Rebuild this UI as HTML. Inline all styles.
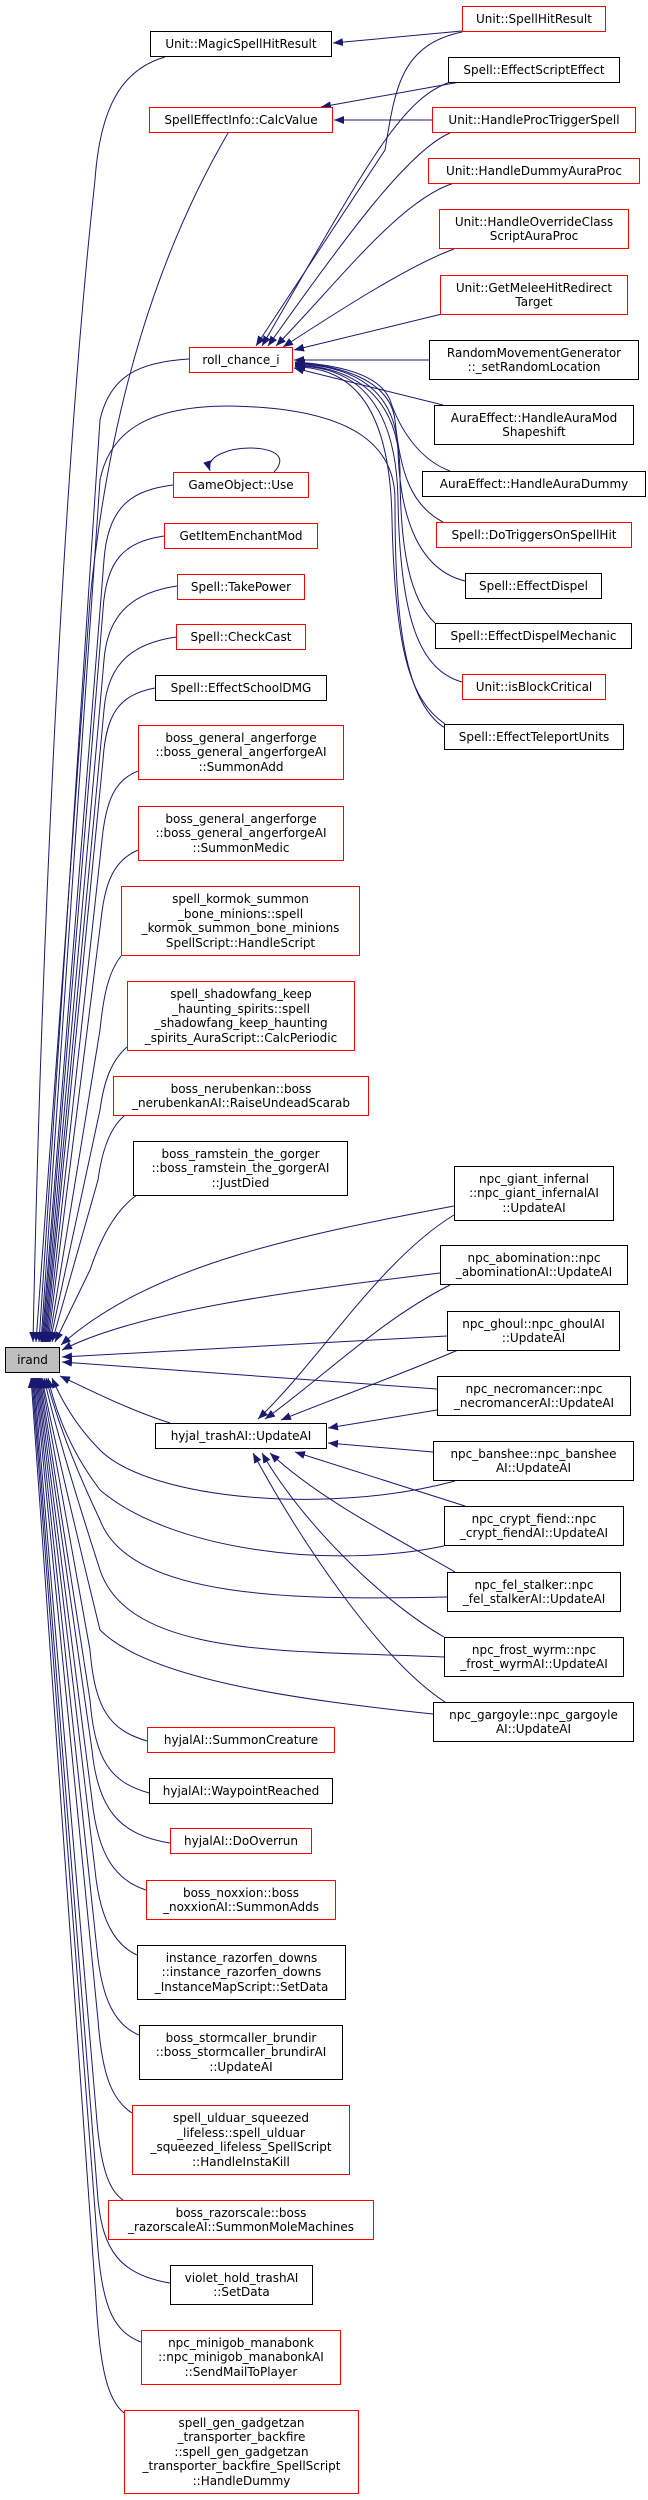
<!DOCTYPE html>
<html><head><meta charset="utf-8"><style>
body{margin:0;background:#fff;}
#c{position:relative;width:648px;height:2500px;overflow:hidden;background:#fff;}
.b{position:absolute;box-sizing:border-box;border:1px solid #000;background:#fff;display:flex;align-items:center;justify-content:center;text-align:center;font-family:"DejaVu Sans","Liberation Sans",sans-serif;font-size:12px;line-height:14.5px;white-space:nowrap;color:#000;}
.r{border-color:#f00;}
.g{background:#bfbfbf;}
svg{position:absolute;left:0;top:0;}
</style></head><body><div id="c">
<svg width="648" height="2500" viewBox="0 0 648 2500">
<defs><marker id="a" markerUnits="userSpaceOnUse" markerWidth="11" markerHeight="8" refX="10" refY="4" orient="auto"><path d="M0,0 L10,4 L0,8 z" fill="#191970"/></marker></defs>
<g fill="none" stroke="#191970" stroke-width="1" marker-end="url(#a)">
<path d="M462,31 L333,43"/>
<path d="M460,82 L321,107"/>
<path d="M432,120 L334,120"/>
<path d="M462,32 C400,45 395,90 385,150 L256,346"/>
<path d="M450,82 C400,100 370,160 262,346"/>
<path d="M450,133 C410,150 350,230 268,346"/>
<path d="M454,183 C400,200 340,280 276,346"/>
<path d="M454,249 C410,265 340,310 283,347"/>
<path d="M442,314 L294,350"/>
<path d="M429,360 L294,360"/>
<path d="M443,405 L294,368"/>
<path d="M450,471 C420,460 400,430 390,400 C380,375 340,365 295,362"/>
<path d="M443,522 C410,505 400,470 395,420 C390,380 340,365 295,363"/>
<path d="M465,581 C420,570 400,520 398,450 C395,380 340,365 295,364"/>
<path d="M435,623 C410,600 400,550 400,470 C398,385 340,366 295,365"/>
<path d="M462,682 C420,670 400,620 398,500 C396,385 340,366 295,366"/>
<path d="M445,724 C410,700 395,650 392,520 C390,390 340,367 295,367"/>
<path d="M274,472 C290,455 270,448 250,448 C232,448 205,455 210,471"/>
<!-- to irand from above -->
<path d="M165,57 C120,70 100,110 95,180 C60,500 40,1000 33,1342"/>
<path d="M228,133 C160,250 110,400 90,600 L36,1342"/>
<path d="M189,359 C140,362 110,375 100,420 L39,1342"/>
<path d="M445,728 C400,700 395,600 395,500 C395,450 360,408 230,406 C150,406 110,430 100,480 L41,1342"/>
<path d="M173,485 C133,490 108,505 104,560 L42,1342"/>
<path d="M164,536 C124,542 106,560 103,610 L43,1342"/>
<path d="M177,586 C137,592 108,610 104,660 L44,1342"/>
<path d="M176,637 C136,643 108,660 104,710 L45,1342"/>
<path d="M155,688 C118,695 106,715 103,760 L46,1342"/>
<path d="M138,771 C115,780 106,800 102,840 L47,1342"/>
<path d="M138,850 C115,860 105,880 101,920 L48,1342"/>
<path d="M121,956 C110,970 104,990 100,1030 L49,1342"/>
<path d="M127,1047 C112,1060 104,1080 100,1110 L50,1342"/>
<path d="M124,1116 C110,1128 102,1150 98,1180 L52,1342"/>
<path d="M137,1195 C115,1210 100,1240 90,1270 L55,1342"/>
<path d="M454,1206 C300,1235 150,1265 61,1345"/>
<path d="M440,1273 C300,1290 140,1310 62,1350"/>
<path d="M447,1336 L62,1357"/>
<path d="M437,1389 L62,1362"/>
<path d="M170,1423 C130,1410 100,1395 60,1376"/>
<!-- to irand from below -->
<path d="M455,1481 C330,1515 150,1500 100,1450 Q70,1420 52,1378"/>
<path d="M444,1546 C330,1570 170,1550 100,1490 Q62,1440 48,1378"/>
<path d="M447,1597 C300,1600 130,1600 100,1520 Q62,1440 46,1378"/>
<path d="M444,1657 C300,1650 130,1660 100,1570 Q58,1440 44,1378"/>
<path d="M433,1714 C300,1700 150,1680 100,1630 Q56,1450 42,1378"/>
<path d="M147,1741 C110,1730 95,1710 90,1650 L41,1378"/>
<path d="M149,1793 C110,1782 95,1760 90,1700 L40,1378"/>
<path d="M170,1843 C120,1835 98,1810 92,1750 L39,1378"/>
<path d="M146,1890 C115,1880 98,1855 92,1800 L38,1378"/>
<path d="M137,1955 C115,1945 100,1920 95,1870 L37,1378"/>
<path d="M139,2035 C115,2025 102,2000 97,1950 L36,1378"/>
<path d="M132,2113 C112,2100 102,2075 98,2020 L35,1378"/>
<path d="M123,2200 C108,2190 100,2165 96,2110 L34,1378"/>
<path d="M170,2283 C120,2275 103,2250 98,2200 L33,1378"/>
<path d="M141,2342 C115,2332 103,2310 98,2250 L32,1378"/>
<path d="M124,2413 C108,2400 100,2370 96,2300 L31,1378"/>
<!-- to hyjal_trashAI -->
<path d="M454,1215 C380,1260 320,1360 258,1419"/>
<path d="M450,1285 C380,1320 320,1380 265,1419"/>
<path d="M458,1350 C400,1375 330,1400 281,1420"/>
<path d="M437,1410 L328,1428"/>
<path d="M433,1452 L328,1443"/>
<path d="M465,1506 L295,1452"/>
<path d="M455,1572 C400,1540 320,1500 270,1453"/>
<path d="M444,1637 C380,1600 300,1520 262,1453"/>
<path d="M445,1702 C380,1660 300,1540 253,1453"/>
</g></svg>

<div class="b r" style="left:462px;top:6px;width:144px;height:26px">Unit::SpellHitResult</div>
<div class="b" style="left:150px;top:31px;width:182px;height:26px">Unit::MagicSpellHitResult</div>
<div class="b" style="left:448px;top:57px;width:172px;height:26px">Spell::EffectScriptEffect</div>
<div class="b r" style="left:149px;top:107px;width:184px;height:26px">SpellEffectInfo::CalcValue</div>
<div class="b r" style="left:432px;top:107px;width:204px;height:26px">Unit::HandleProcTriggerSpell</div>
<div class="b r" style="left:428px;top:158px;width:212px;height:26px">Unit::HandleDummyAuraProc</div>
<div class="b r" style="left:439px;top:209px;width:190px;height:40px">Unit::HandleOverrideClass<br>ScriptAuraProc</div>
<div class="b r" style="left:440px;top:275px;width:188px;height:40px">Unit::GetMeleeHitRedirect<br>Target</div>
<div class="b r" style="left:189px;top:347px;width:104px;height:26px">roll_chance_i</div>
<div class="b" style="left:429px;top:340px;width:210px;height:40px">RandomMovementGenerator<br>::_setRandomLocation</div>
<div class="b" style="left:434px;top:405px;width:200px;height:40px">AuraEffect::HandleAuraMod<br>Shapeshift</div>
<div class="b r" style="left:173px;top:472px;width:136px;height:26px">GameObject::Use</div>
<div class="b" style="left:422px;top:471px;width:224px;height:26px">AuraEffect::HandleAuraDummy</div>
<div class="b r" style="left:164px;top:523px;width:154px;height:26px">GetItemEnchantMod</div>
<div class="b r" style="left:436px;top:522px;width:196px;height:26px">Spell::DoTriggersOnSpellHit</div>
<div class="b r" style="left:177px;top:574px;width:128px;height:26px">Spell::TakePower</div>
<div class="b" style="left:465px;top:573px;width:137px;height:26px">Spell::EffectDispel</div>
<div class="b r" style="left:176px;top:624px;width:130px;height:26px">Spell::CheckCast</div>
<div class="b" style="left:435px;top:623px;width:197px;height:26px">Spell::EffectDispelMechanic</div>
<div class="b" style="left:155px;top:675px;width:172px;height:26px">Spell::EffectSchoolDMG</div>
<div class="b r" style="left:462px;top:674px;width:144px;height:26px">Unit::isBlockCritical</div>
<div class="b" style="left:444px;top:724px;width:180px;height:26px">Spell::EffectTeleportUnits</div>
<div class="b r" style="left:138px;top:725px;width:206px;height:55px">boss_general_angerforge<br>::boss_general_angerforgeAI<br>::SummonAdd</div>
<div class="b r" style="left:138px;top:806px;width:206px;height:55px">boss_general_angerforge<br>::boss_general_angerforgeAI<br>::SummonMedic</div>
<div class="b r" style="left:121px;top:886px;width:239px;height:70px">spell_kormok_summon<br>_bone_minions::spell<br>_kormok_summon_bone_minions<br>SpellScript::HandleScript</div>
<div class="b r" style="left:127px;top:981px;width:228px;height:70px">spell_shadowfang_keep<br>_haunting_spirits::spell<br>_shadowfang_keep_haunting<br>_spirits_AuraScript::CalcPeriodic</div>
<div class="b r" style="left:113px;top:1076px;width:256px;height:40px">boss_nerubenkan::boss<br>_nerubenkanAI::RaiseUndeadScarab</div>
<div class="b" style="left:133px;top:1141px;width:215px;height:55px">boss_ramstein_the_gorger<br>::boss_ramstein_the_gorgerAI<br>::JustDied</div>
<div class="b" style="left:454px;top:1166px;width:160px;height:55px">npc_giant_infernal<br>::npc_giant_infernalAI<br>::UpdateAI</div>
<div class="b" style="left:440px;top:1245px;width:188px;height:40px">npc_abomination::npc<br>_abominationAI::UpdateAI</div>
<div class="b" style="left:447px;top:1311px;width:173px;height:40px">npc_ghoul::npc_ghoulAI<br>::UpdateAI</div>
<div class="b g" style="left:5px;top:1347px;width:55px;height:26px">irand</div>
<div class="b" style="left:437px;top:1376px;width:194px;height:40px">npc_necromancer::npc<br>_necromancerAI::UpdateAI</div>
<div class="b" style="left:155px;top:1423px;width:172px;height:26px">hyjal_trashAI::UpdateAI</div>
<div class="b" style="left:433px;top:1441px;width:201px;height:40px">npc_banshee::npc_banshee<br>AI::UpdateAI</div>
<div class="b" style="left:444px;top:1506px;width:180px;height:40px">npc_crypt_fiend::npc<br>_crypt_fiendAI::UpdateAI</div>
<div class="b" style="left:447px;top:1572px;width:174px;height:40px">npc_fel_stalker::npc<br>_fel_stalkerAI::UpdateAI</div>
<div class="b" style="left:444px;top:1637px;width:180px;height:40px">npc_frost_wyrm::npc<br>_frost_wyrmAI::UpdateAI</div>
<div class="b" style="left:433px;top:1702px;width:201px;height:40px">npc_gargoyle::npc_gargoyle<br>AI::UpdateAI</div>
<div class="b r" style="left:147px;top:1727px;width:188px;height:26px">hyjalAI::SummonCreature</div>
<div class="b" style="left:149px;top:1778px;width:184px;height:26px">hyjalAI::WaypointReached</div>
<div class="b r" style="left:170px;top:1828px;width:142px;height:26px">hyjalAI::DoOverrun</div>
<div class="b r" style="left:146px;top:1880px;width:190px;height:40px">boss_noxxion::boss<br>_noxxionAI::SummonAdds</div>
<div class="b" style="left:137px;top:1945px;width:209px;height:55px">instance_razorfen_downs<br>::instance_razorfen_downs<br>_InstanceMapScript::SetData</div>
<div class="b" style="left:139px;top:2025px;width:204px;height:55px">boss_stormcaller_brundir<br>::boss_stormcaller_brundirAI<br>::UpdateAI</div>
<div class="b r" style="left:132px;top:2105px;width:218px;height:70px">spell_ulduar_squeezed<br>_lifeless::spell_ulduar<br>_squeezed_lifeless_SpellScript<br>::HandleInstaKill</div>
<div class="b r" style="left:108px;top:2200px;width:266px;height:40px">boss_razorscale::boss<br>_razorscaleAI::SummonMoleMachines</div>
<div class="b" style="left:170px;top:2265px;width:143px;height:40px">violet_hold_trashAI<br>::SetData</div>
<div class="b r" style="left:141px;top:2330px;width:200px;height:55px">npc_minigob_manabonk<br>::npc_minigob_manabonkAI<br>::SendMailToPlayer</div>
<div class="b r" style="left:124px;top:2410px;width:235px;height:84px">spell_gen_gadgetzan<br>_transporter_backfire<br>::spell_gen_gadgetzan<br>_transporter_backfire_SpellScript<br>::HandleDummy</div>
</div></body></html>
